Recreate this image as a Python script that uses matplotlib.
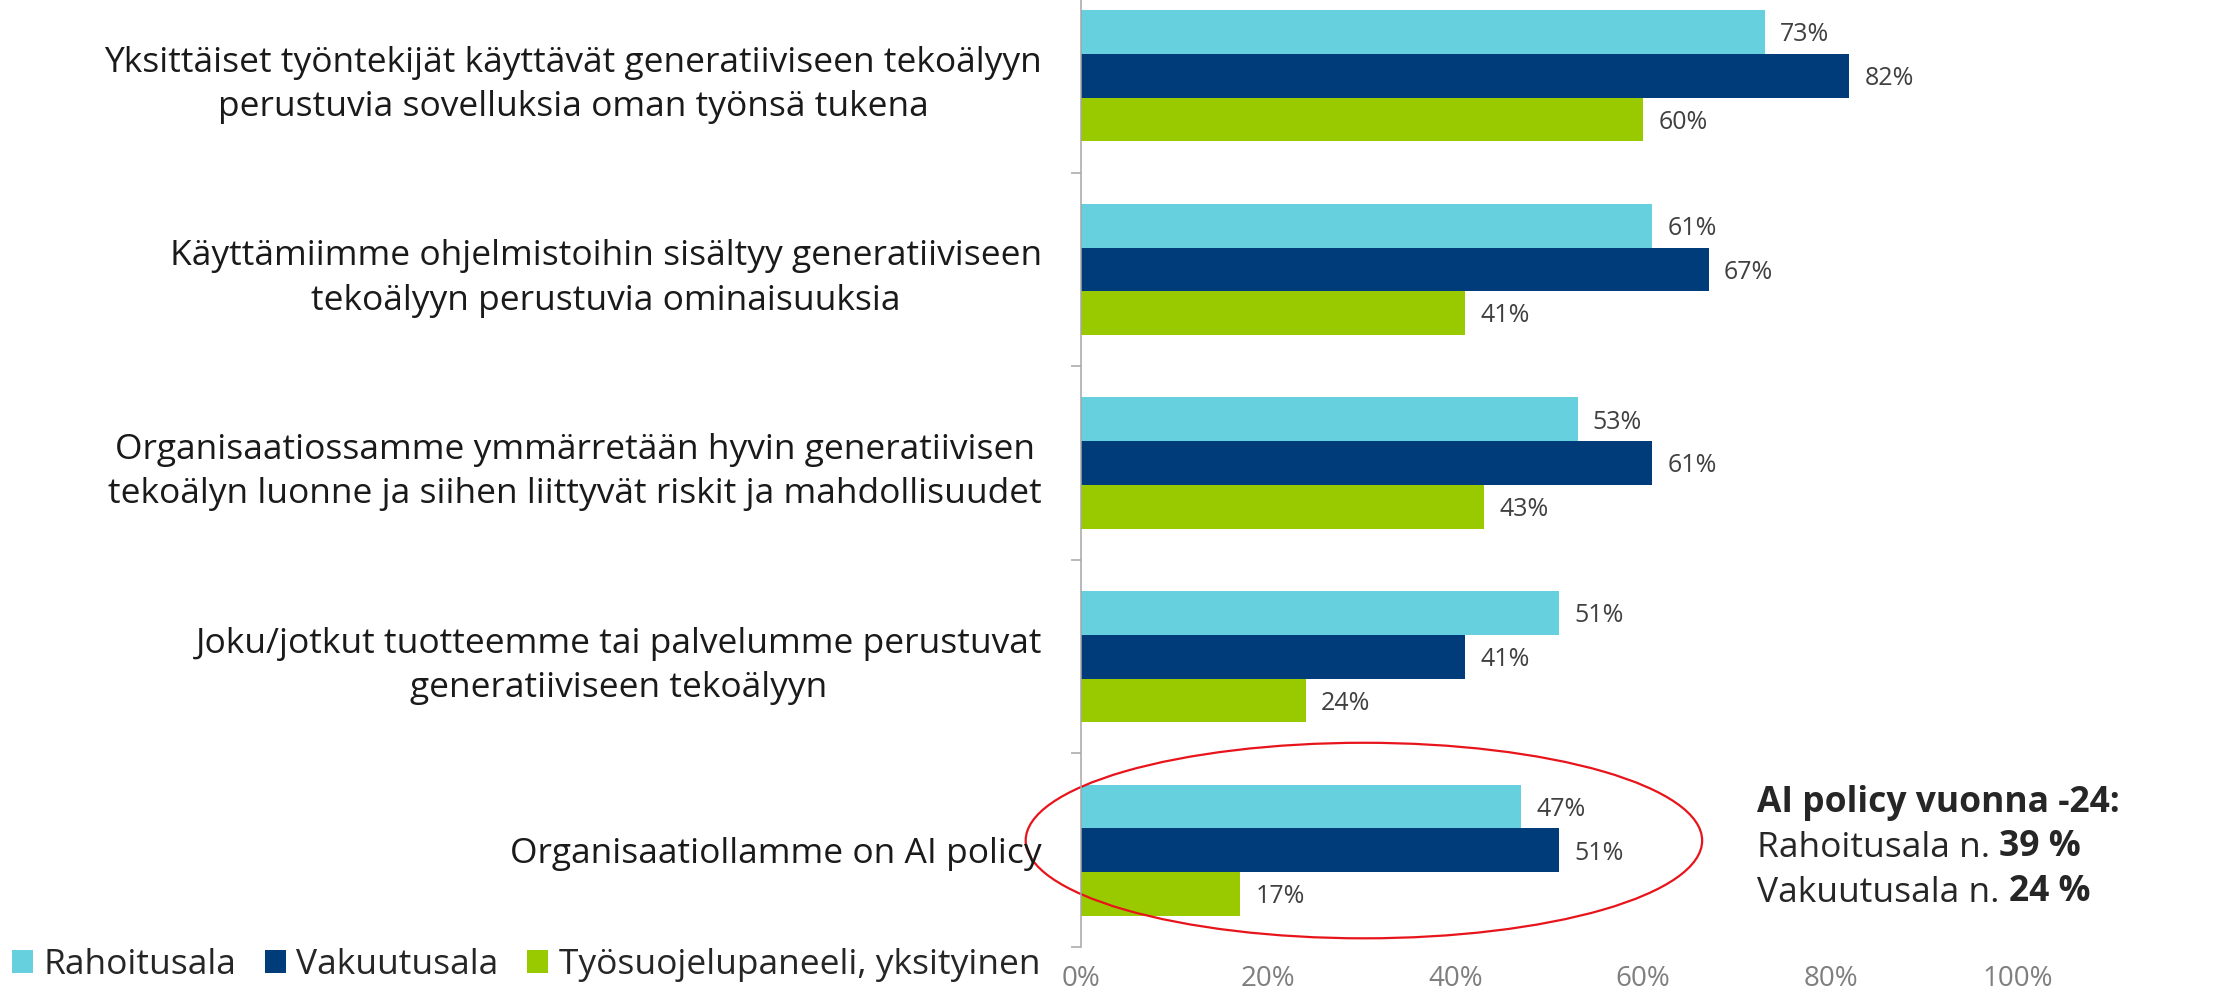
import matplotlib
matplotlib.use('Agg')
import matplotlib.pyplot as plt
import numpy as np
from matplotlib.patches import Ellipse, Patch

## grouped horizontal bar chart with annotation

categories = [
    'Yksittäiset työntekijät käyttävät generatiiviseen tekoälyyn\nperustuvia sovelluksia oman työnsä tukena',
    'Käyttämiimme ohjelmistoihin sisältyy generatiiviseen\ntekoälyyn perustuvia ominaisuuksia',
    'Organisaatiossamme ymmärretään hyvin generatiivisen\ntekoälyn luonne ja siihen liittyvät riskit ja mahdollisuudet',
    'Joku/jotkut tuotteemme tai palvelumme perustuvat\ngeneratiiviseen tekoälyyn',
    'Organisaatiollamme on AI policy',
]
series = ['Rahoitusala', 'Vakuutusala', 'Työsuojelupaneeli, yksityinen']
rahoitus = [73, 61, 53, 51, 47]
vakuutus = [82, 67, 61, 41, 51]
tyosuojelu = [60, 41, 43, 24, 17]
xticks = [0, 20, 40, 60, 80, 100]

colors = ['#66D0DF', '#003B7A', '#99CA00']

plt.rcParams['font.family'] = ['Open Sans', 'DejaVu Sans']

fig = plt.figure(figsize=(22.16, 9.93), dpi=100)
ax = fig.add_axes([0.4878, 0.0463, 0.4228, 0.9748])

y = np.arange(len(categories))
h = 0.226
for i, (vals, c) in enumerate(zip([rahoitus, vakuutus, tyosuojelu], colors)):
    pos = y + (i - 1) * h
    ax.barh(pos, vals, height=h, color=c, label=series[i])
    for p, v in zip(pos, vals):
        ax.annotate(f'{v}%', xy=(v, p), xytext=(11, -2), textcoords='offset points',
                    va='center', ha='left', fontsize=18, color='#404040')

ax.set_xlim(0, 100)
ax.set_ylim(len(categories) - 0.5, -0.5)

# category labels, centered lines, right aligned block
ax.set_yticks(y)
ax.set_yticklabels(categories, fontsize=25.5, color='#1a1a1a', multialignment='center',
                   linespacing=1.4)
ax.tick_params(axis='y', which='major', length=0, pad=28)
ax.set_yticks(np.arange(-0.5, len(categories), 1.0), minor=True)
ax.tick_params(axis='y', which='minor', length=7, width=1.1, color='#A6A6A6', direction='out')

ax.set_xticks(xticks)
ax.set_xticklabels([f'{t}%' for t in xticks], fontsize=20, color='#7F7F7F')
ax.tick_params(axis='x', length=0, pad=13)

for s in ['top', 'right', 'bottom']:
    ax.spines[s].set_visible(False)
ax.spines['left'].set_color('#A6A6A6')
ax.spines['left'].set_linewidth(1.1)

# legend
handles = [Patch(facecolor=c) for c in colors]
fig.legend(handles, series, loc='center left', bbox_to_anchor=(0.002, 1 - 965 / 993),
           ncol=3, frameon=False, fontsize=25.5, handlelength=0.6, handleheight=0.6,
           handletextpad=0.3, columnspacing=0.8, labelcolor='#262626',
           borderaxespad=0, borderpad=0.2)

# red ellipse round the AI policy group
ell = Ellipse((30.2, 3.95), 72.2, 1.01, fill=False, edgecolor='#E8141B', lw=1.6,
              clip_on=False)
ax.add_patch(ell)

# annotation
tx = 1757 / 2216
fig.text(tx, 1 - 803 / 993, 'AI policy vuonna -24:', fontsize=25.5, fontweight='bold',
         color='#262626', va='center', ha='left')
for yy, lab, val in [(848, 'Rahoitusala n. ', '39 %'), (893, 'Vakuutusala n. ', '24 %')]:
    t = fig.text(tx, 1 - yy / 993, lab, fontsize=25.5, color='#262626', va='center', ha='left')
    ax.annotate(val, xy=(1, 0), xycoords=t, va='bottom', ha='left', fontsize=25.5,
                fontweight='bold', color='#262626', annotation_clip=False)

fig.savefig('out.png', dpi=100)
